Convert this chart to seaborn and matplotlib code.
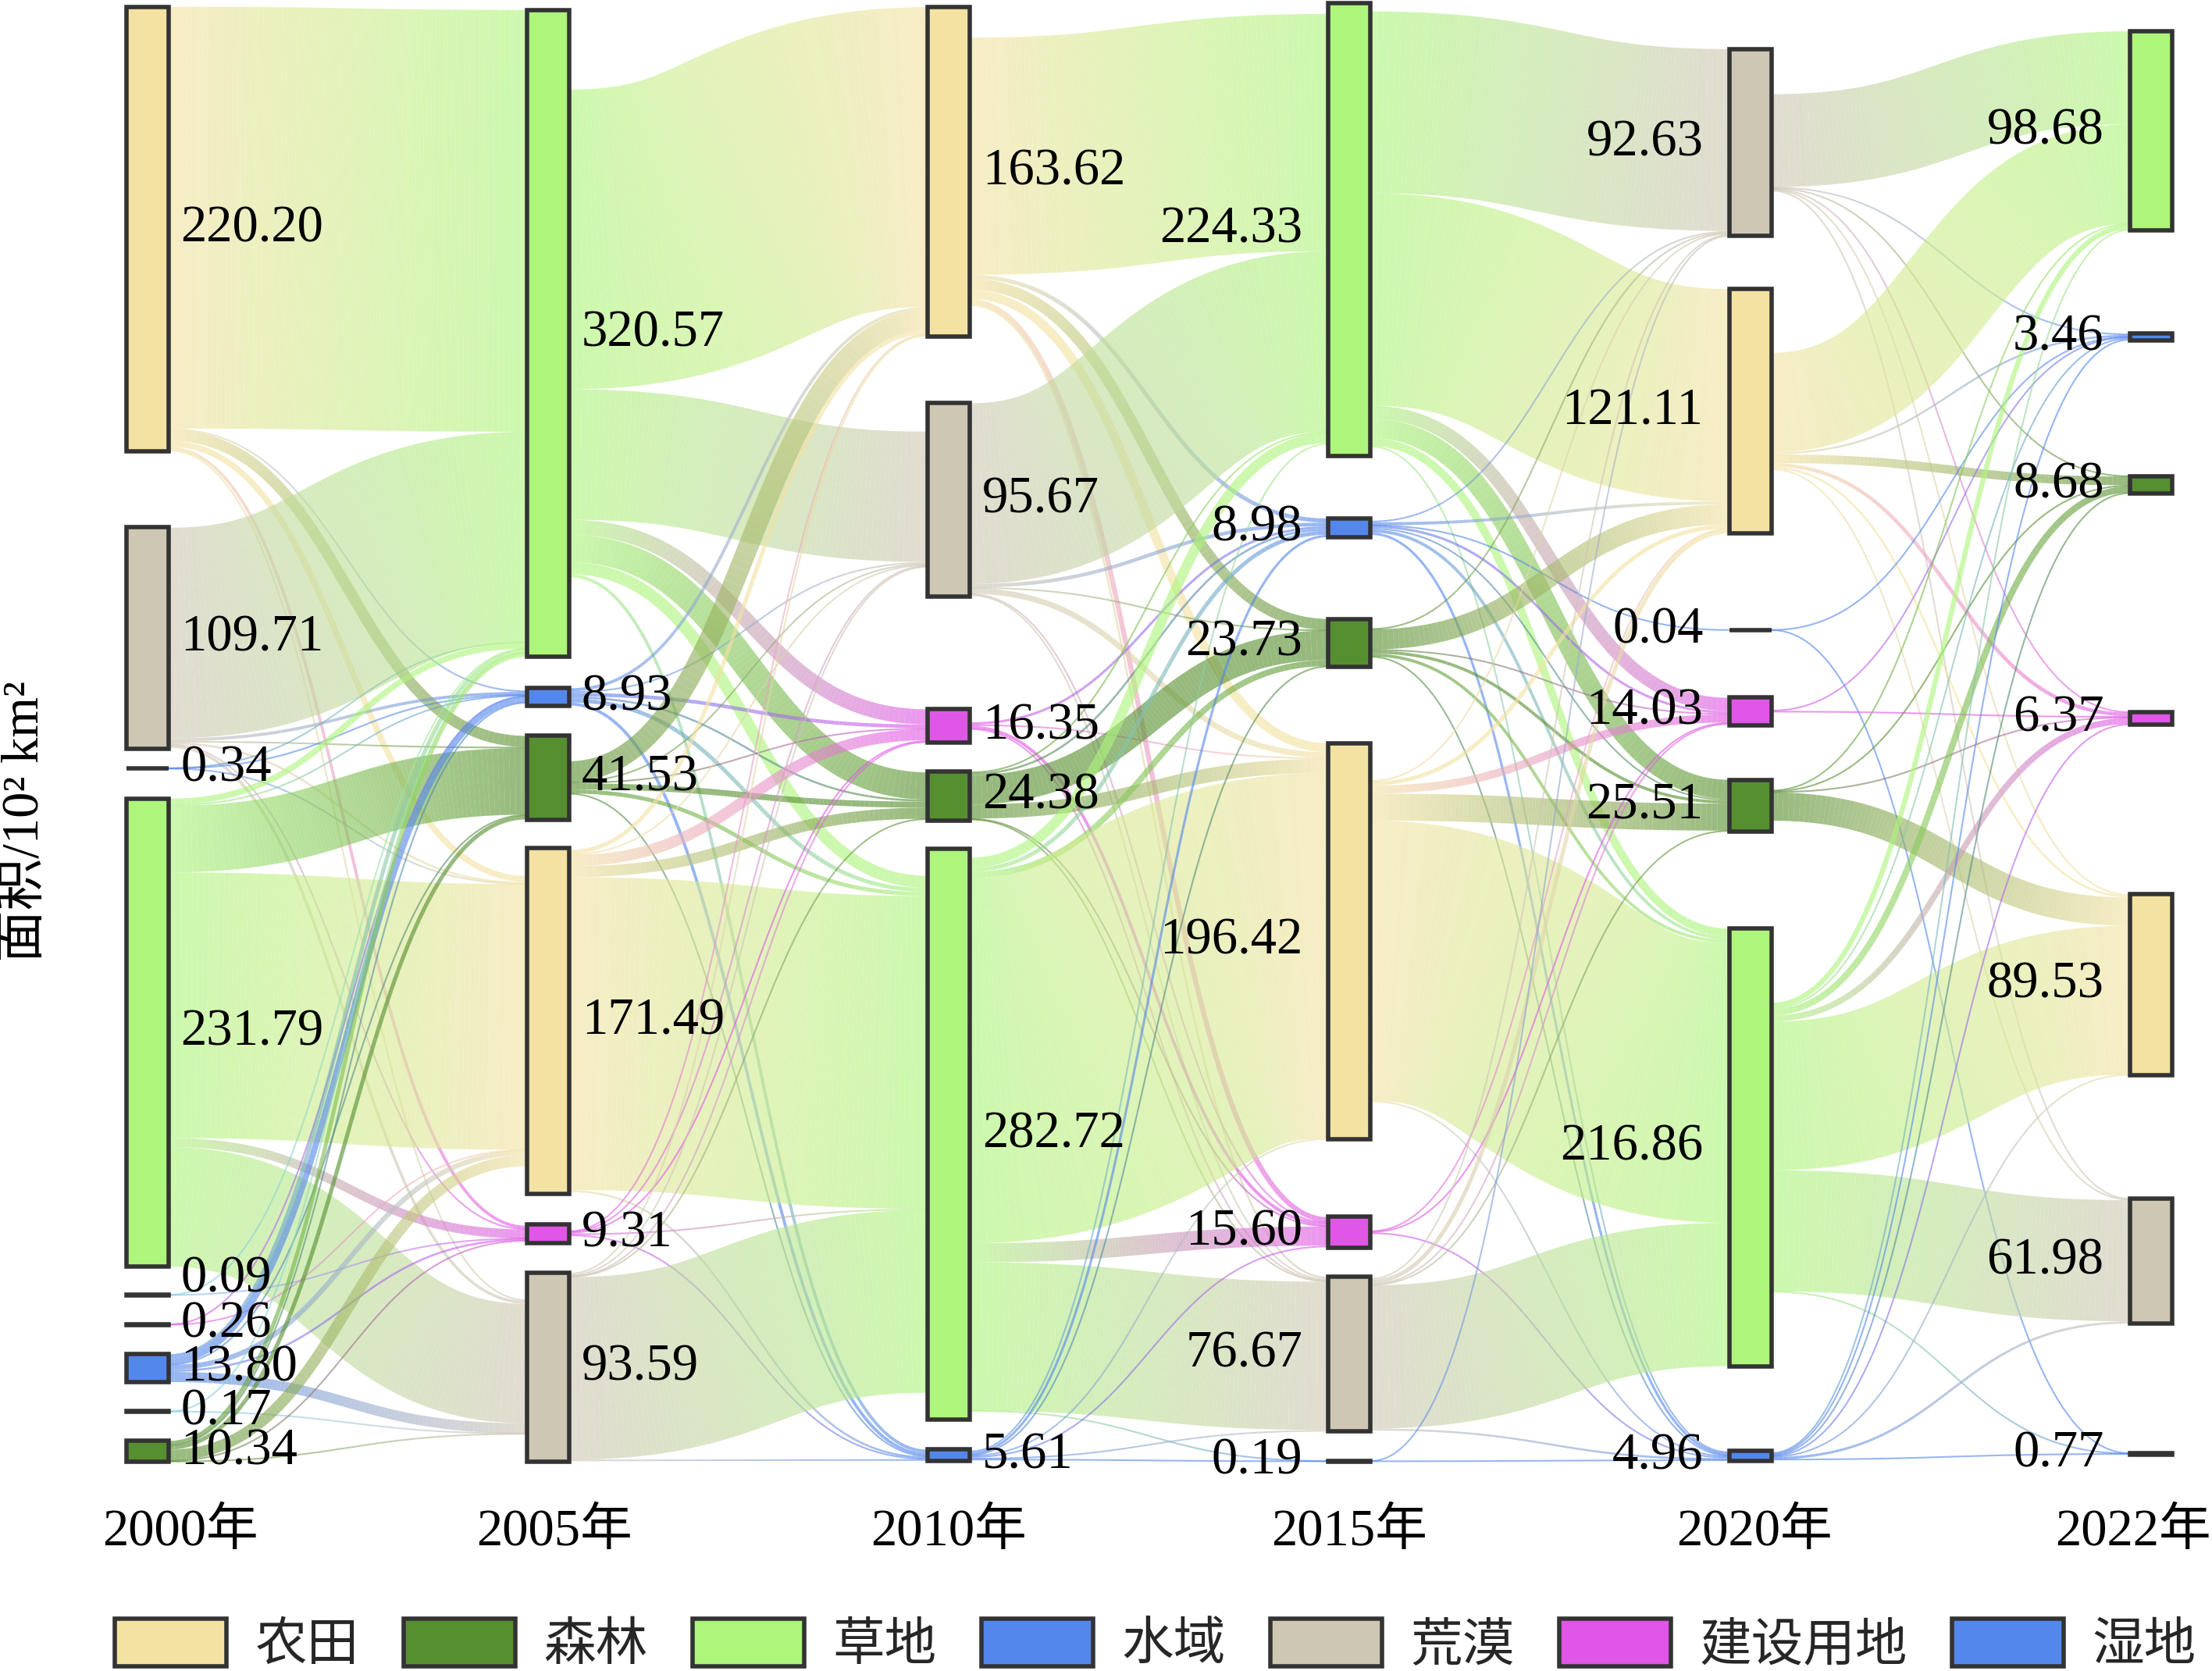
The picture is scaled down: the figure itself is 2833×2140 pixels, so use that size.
import numpy as np
import matplotlib
matplotlib.use('Agg')
import matplotlib.pyplot as plt
import seaborn as sns
from matplotlib.collections import PolyCollection
from matplotlib.patches import Rectangle, Patch

sns.set_theme(style='white')
plt.rcParams['font.family'] = ['Liberation Serif', 'Noto Sans CJK SC', 'DejaVu Sans']

# classes, legend text and colours
class_names = {'crop': '农田', 'forest': '森林', 'grass': '草地', 'water': '水域',
               'desert': '荒漠', 'built': '建设用地', 'wet': '湿地'}
legend_order = ['crop', 'forest', 'grass', 'water', 'desert', 'built', 'wet']
palette = {'crop': '#F3E2A2', 'forest': '#568F2F', 'grass': '#ADF57B', 'water': '#5487EC',
           'desert': '#CEC7B4', 'built': '#E056E6', 'wet': '#5487EC',
           'x1': '#7EC8F0', 'x2': '#7EC8F0'}

years = ['2000年', '2005年', '2010年', '2015年', '2020年', '2022年']

# node values per year (top to bottom)
nodes_2000 = ['crop', 'desert', 'wet', 'grass', 'x1', 'built', 'water', 'x2', 'forest']
values_2000 = [220.20, 109.71, 0.34, 231.79, 0.09, 0.26, 13.80, 0.17, 10.34]
nodes_2005 = ['grass', 'water', 'forest', 'crop', 'built', 'desert']
values_2005 = [320.57, 8.93, 41.53, 171.49, 9.31, 93.59]
nodes_2010 = ['crop', 'desert', 'built', 'forest', 'grass', 'water']
values_2010 = [163.62, 95.67, 16.35, 24.38, 282.72, 5.61]
nodes_2015 = ['grass', 'water', 'forest', 'crop', 'built', 'desert', 'wet']
values_2015 = [224.33, 8.98, 23.73, 196.42, 15.60, 76.67, 0.19]
nodes_2020 = ['desert', 'crop', 'wet', 'built', 'forest', 'grass', 'water']
values_2020 = [92.63, 121.11, 0.04, 14.03, 25.51, 216.86, 4.96]
nodes_2022 = ['grass', 'water', 'forest', 'built', 'crop', 'desert', 'wet']
values_2022 = [98.68, 3.46, 8.68, 6.37, 89.53, 61.98, 0.77]

# transitions between consecutive years (from, to, area)
flows_2000_2005 = [
    ('crop', 'grass', 209.0), ('crop', 'water', 0.5), ('crop', 'forest', 5.5), ('crop', 'crop', 3.0),
    ('crop', 'built', 1.5), ('crop', 'desert', 0.7),
    ('desert', 'grass', 104.3), ('desert', 'water', 1.5), ('desert', 'forest', 0.5), ('desert', 'crop', 1.0),
    ('desert', 'built', 0.3), ('desert', 'desert', 1.41),
    ('wet', 'grass', 0.1), ('wet', 'water', 0.14), ('wet', 'crop', 0.1),
    ('grass', 'grass', 3.0), ('grass', 'water', 0.5), ('grass', 'forest', 33.0), ('grass', 'crop', 131.6),
    ('grass', 'built', 4.5), ('grass', 'desert', 59.19),
    ('x1', 'grass', 0.05), ('x1', 'built', 0.04),
    ('built', 'water', 0.1), ('built', 'crop', 0.16),
    ('water', 'grass', 2.0), ('water', 'water', 3.0), ('water', 'forest', 0.3), ('water', 'crop', 2.5),
    ('water', 'built', 1.0), ('water', 'desert', 5.0),
    ('x2', 'grass', 0.1), ('x2', 'desert', 0.07),
    ('forest', 'grass', 2.0), ('forest', 'water', 0.3), ('forest', 'forest', 2.0), ('forest', 'crop', 5.5),
    ('forest', 'built', 0.2), ('forest', 'desert', 0.34),
]
flows_2005_2010 = [
    ('grass', 'crop', 148.5), ('grass', 'desert', 64.6), ('grass', 'built', 7.5), ('grass', 'forest', 13.5),
    ('grass', 'grass', 6.0), ('grass', 'water', 1.5),
    ('water', 'crop', 1.5), ('water', 'desert', 0.8), ('water', 'built', 1.8), ('water', 'forest', 1.0),
    ('water', 'grass', 2.0), ('water', 'water', 1.5),
    ('forest', 'crop', 10.0), ('forest', 'desert', 0.5), ('forest', 'built', 0.5), ('forest', 'forest', 3.0),
    ('forest', 'grass', 2.0), ('forest', 'water', 0.3),
    ('crop', 'crop', 2.0), ('crop', 'desert', 0.5), ('crop', 'built', 5.5), ('crop', 'forest', 5.5),
    ('crop', 'grass', 155.0), ('crop', 'water', 1.0),
    ('built', 'crop', 0.3), ('built', 'desert', 0.2), ('built', 'built', 0.8), ('built', 'grass', 0.6),
    ('built', 'water', 0.5),
    ('desert', 'crop', 0.8), ('desert', 'desert', 0.8), ('desert', 'built', 0.2), ('desert', 'forest', 0.3),
    ('desert', 'grass', 90.5), ('desert', 'water', 0.6),
]
flows_2010_2015 = [
    ('crop', 'grass', 117.5), ('crop', 'water', 2.0), ('crop', 'forest', 5.5), ('crop', 'crop', 4.5),
    ('crop', 'built', 2.5), ('crop', 'desert', 1.0),
    ('desert', 'grass', 89.5), ('desert', 'water', 1.8), ('desert', 'forest', 0.3), ('desert', 'crop', 2.8),
    ('desert', 'built', 0.3), ('desert', 'desert', 0.77),
    ('built', 'water', 1.2), ('built', 'crop', 0.5), ('built', 'built', 1.5), ('built', 'desert', 0.3),
    ('forest', 'grass', 0.5), ('forest', 'water', 1.0), ('forest', 'forest', 14.6), ('forest', 'crop', 7.0),
    ('forest', 'built', 0.3), ('forest', 'desert', 0.3),
    ('grass', 'grass', 5.0), ('grass', 'water', 2.0), ('grass', 'forest', 3.0), ('grass', 'crop', 181.0),
    ('grass', 'built', 9.5), ('grass', 'desert', 73.5), ('grass', 'wet', 0.1),
    ('water', 'grass', 0.8), ('water', 'water', 1.2), ('water', 'forest', 0.3), ('water', 'crop', 0.5),
    ('water', 'built', 0.8), ('water', 'desert', 0.8), ('water', 'wet', 0.09),
]
flows_2015_2020 = [
    ('grass', 'desert', 90.1), ('grass', 'crop', 105.2), ('grass', 'built', 6.5), ('grass', 'forest', 9.5),
    ('grass', 'grass', 4.0), ('grass', 'water', 0.5),
    ('water', 'desert', 0.8), ('water', 'crop', 1.5), ('water', 'wet', 0.02), ('water', 'built', 1.2),
    ('water', 'forest', 0.8), ('water', 'grass', 1.5), ('water', 'water', 1.2),
    ('forest', 'desert', 0.3), ('forest', 'crop', 10.0), ('forest', 'built', 0.5), ('forest', 'forest', 1.5),
    ('forest', 'grass', 1.5), ('forest', 'water', 0.2),
    ('crop', 'desert', 0.5), ('crop', 'crop', 2.0), ('crop', 'built', 4.0), ('crop', 'forest', 13.4),
    ('crop', 'grass', 138.8), ('crop', 'water', 0.6),
    ('built', 'crop', 0.4), ('built', 'built', 0.5), ('built', 'water', 0.6),
    ('desert', 'desert', 0.8), ('desert', 'crop', 2.0), ('desert', 'built', 0.5), ('desert', 'forest', 0.3),
    ('desert', 'grass', 71.0), ('desert', 'water', 1.0),
    ('wet', 'desert', 0.09), ('wet', 'water', 0.1),
]
flows_2020_2022 = [
    ('desert', 'grass', 46.0), ('desert', 'water', 0.4), ('desert', 'forest', 0.3), ('desert', 'built', 0.4),
    ('desert', 'crop', 0.5), ('desert', 'desert', 0.3),
    ('crop', 'grass', 49.3), ('crop', 'water', 1.0), ('crop', 'forest', 4.3), ('crop', 'built', 1.8),
    ('crop', 'crop', 1.0), ('crop', 'desert', 0.5),
    ('wet', 'water', 0.02), ('wet', 'wet', 0.02),
    ('built', 'water', 0.5), ('built', 'built', 0.5),
    ('forest', 'grass', 0.3), ('forest', 'forest', 0.5), ('forest', 'built', 0.3), ('forest', 'crop', 14.0),
    ('grass', 'grass', 2.5), ('grass', 'water', 0.6), ('grass', 'forest', 3.2), ('grass', 'built', 3.0),
    ('grass', 'crop', 73.7), ('grass', 'desert', 60.0), ('grass', 'wet', 0.3),
    ('water', 'grass', 0.5), ('water', 'water', 0.6), ('water', 'forest', 0.4), ('water', 'built', 0.4),
    ('water', 'crop', 0.3), ('water', 'desert', 1.2), ('water', 'wet', 0.1),
]

# layout: node tops (same units as the values), column placement
tops_2000 = [3.3, 261.1, 380.5, 395.7, 641.5, 656.1, 670.9, 699.2, 713.9]
tops_2005 = [4.9, 340.8, 364.5, 420.1, 606.4, 630.4]
tops_2010 = [3.3, 199.7, 351.4, 382.1, 420.6, 718.1]
tops_2015 = [1.4, 257.0, 306.6, 368.1, 602.7, 632.6, 723.8]
tops_2020 = [24.3, 143.2, 312.1, 345.3, 386.3, 460.0, 718.9]
tops_2022 = [15.5, 165.3, 235.8, 352.7, 443.1, 593.8, 719.8]

columns = [
    (nodes_2000, values_2000, tops_2000), (nodes_2005, values_2005, tops_2005),
    (nodes_2010, values_2010, tops_2010), (nodes_2015, values_2015, tops_2015),
    (nodes_2020, values_2020, tops_2020), (nodes_2022, values_2022, tops_2022),
]
all_flows = [flows_2000_2005, flows_2005_2010, flows_2010_2015, flows_2015_2020, flows_2020_2022]

W_PX, H_PX, DPI = 2833, 2140, 200
PX_PER_UNIT = 2.585
col_left = [62.7 + i * 198.5 for i in range(6)]
node_w = 20.9
year_offset = [16, 3, 0, 0, 2, -9]
label_nudge = {(0, 'x1'): -8}

fig = plt.figure(figsize=(W_PX / DPI, H_PX / DPI), dpi=DPI)
ax = fig.add_axes([0, 0, 1, 1])
ax.set_xlim(0, W_PX / PX_PER_UNIT)
ax.set_ylim(H_PX / PX_PER_UNIT, 0)
ax.set_axis_off()

col_maps = []
for names, vals, tops in columns:
    col_maps.append({k: (t, v) for k, v, t in zip(names, vals, tops)})


def band(x0, y0, x1, y1, w, c0, c1, n=90):
    # one link: cubic curve between nodes, widened along its normal, colour blended left to right
    t = np.linspace(0, 1, n + 1)
    xm = (x0 + x1) / 2
    bx = (1 - t) ** 3 * x0 + 3 * (1 - t) ** 2 * t * xm + 3 * (1 - t) * t ** 2 * xm + t ** 3 * x1
    by = (1 - t) ** 3 * y0 + 3 * (1 - t) ** 2 * t * y0 + 3 * (1 - t) * t ** 2 * y1 + t ** 3 * y1
    dx = 3 * (1 - t) ** 2 * (xm - x0) + 3 * t ** 2 * (x1 - xm)
    dy = 6 * (1 - t) * t * (y1 - y0)
    nrm = np.hypot(dx, dy)
    nx, ny = -dy / nrm, dx / nrm
    h = w / 2
    top = np.c_[bx + nx * h, by + ny * h]
    bot = np.c_[bx - nx * h, by - ny * h]
    quads = [[top[k], top[k + 1], bot[k + 1], bot[k]] for k in range(n)]
    grad = sns.blend_palette([c0, c1], n_colors=101)
    mid = (bx[:-1] + bx[1:]) / 2
    idx = np.clip(np.round((mid - x0) / (x1 - x0) * 100).astype(int), 0, 100)
    cols = [(*grad[i], 0.62) for i in idx]
    return PolyCollection(quads, facecolors=cols, edgecolors='none', linewidths=0, zorder=1)


for i, links in enumerate(all_flows):
    src, tgt = col_maps[i], col_maps[i + 1]
    y_src, y_tgt = {}, {}
    for key, (top, val) in src.items():
        outs = sorted([j for j, l in enumerate(links) if l[0] == key], key=lambda j: tgt[links[j][1]][0])
        y = top + (val - sum(links[j][2] for j in outs)) / 2
        for j in outs:
            y_src[j] = y
            y += links[j][2]
    for key, (top, val) in tgt.items():
        ins = sorted([j for j, l in enumerate(links) if l[1] == key], key=lambda j: src[links[j][0]][0])
        y = top + (val - sum(links[j][2] for j in ins)) / 2
        for j in ins:
            y_tgt[j] = y
            y += links[j][2]
    x0 = col_left[i] + node_w
    x1 = col_left[i + 1]
    for j, (a, b, v) in enumerate(links):
        w = max(v, 0.8)
        pc = band(x0, y_src[j] + v / 2, x1, y_tgt[j] + v / 2, w, palette[a], palette[b])
        ax.add_collection(pc)

# nodes and value labels
for i, (names, vals, tops) in enumerate(columns):
    for k, v, t in zip(names, vals, tops):
        ax.add_patch(Rectangle((col_left[i], t), node_w, v, facecolor=palette[k],
                               edgecolor='#333333', linewidth=2, zorder=3))
        yc = t + v / 2 + label_nudge.get((i, k), 0)
        if i < 3:
            ax.text(col_left[i] + node_w + 6.0, yc, f'{v:.2f}', ha='left', va='center',
                    fontsize=24, color='black', zorder=4)
        else:
            ax.text(col_left[i] - 12.8, yc, f'{v:.2f}', ha='right', va='center',
                    fontsize=24, color='black', zorder=4)

for i, yr in enumerate(years):
    ax.text(col_left[i] + node_w / 2 + year_offset[i], 759, yr, ha='center', va='center',
            fontsize=24, color='black')

ax.text(12.7, 407, '面积/10² km²', rotation=90, ha='center', va='center', fontsize=24, color='black')

handles = [Patch(facecolor=palette[k], edgecolor='#333333', linewidth=2, label=class_names[k])
           for k in legend_order]
ax.legend(handles=handles, loc='lower left', bbox_to_anchor=(0.052, 0.0), ncol=7, frameon=False,
          fontsize=24, handlelength=2.14, handleheight=1.04, handletextpad=0.55,
          columnspacing=0.86, borderpad=0, borderaxespad=0)

fig.savefig('out.png', dpi=DPI)
